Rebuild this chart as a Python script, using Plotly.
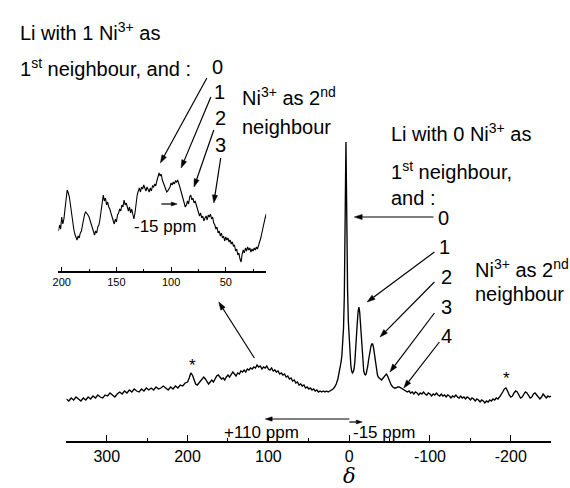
import math
import plotly.graph_objects as go

# ---------------- data ----------------
main_ppm = [350, 347, 344, 341, 338, 335, 332, 329, 326, 323, 320, 317, 314, 311, 308, 305, 302, 299, 296, 293,
            290, 287, 284, 281, 278, 275, 272, 269, 266, 263, 260, 257, 254, 251, 248, 245, 242, 239, 236, 233,
            230, 227, 224, 221, 218, 215, 212, 209, 206, 203, 200, 198, 196, 194, 192, 190, 188, 186, 184, 182,
            180, 178, 176, 174, 172, 170, 168, 166, 164, 162, 160, 158, 156, 154, 152, 150, 148, 146, 144, 142,
            140, 138, 136, 134, 132, 130, 128, 126, 124, 122, 120, 118, 116, 114, 112, 110, 108, 106, 104, 102,
            100, 98, 96, 94, 92, 90, 88, 86, 84, 82, 80, 78, 76, 74, 72, 70, 68, 66, 64, 62,
            60, 58, 56, 54, 52, 50, 48, 46, 44, 42, 40, 38, 36, 34, 32, 30, 28, 26, 24, 22,
            20, 18, 16, 14, 12, 10, 9, 8, 7, 6, 5, 4.5, 4, 3.5, 3, 2, 1, 0, -1, -2,
            -3, -4, -5, -6, -7, -8, -9, -10, -11, -12, -13, -14, -15, -16, -17, -18, -19, -20, -21, -22,
            -23, -24, -25, -26, -27, -28, -29, -30, -31, -32, -33, -34, -35, -36, -37, -38, -39, -40, -41, -42,
            -43, -44, -45, -46, -47, -48, -49, -50, -52, -54, -56, -58, -60, -62, -64, -66, -68, -70, -72, -74,
            -76, -78, -80, -82, -84, -86, -88, -90, -92, -94, -96, -98, -100, -102, -104, -106, -108, -110, -112, -114,
            -116, -118, -120, -122, -124, -126, -128, -130, -132, -134, -136, -138, -140, -142, -144, -146, -148, -150, -152, -154,
            -156, -158, -160, -162, -164, -166, -168, -170, -172, -174, -176, -178, -180, -182, -184, -186, -188, -190, -192, -194,
            -196, -198, -200, -202, -204, -206, -208, -210, -212, -214, -216, -218, -220, -222, -224, -226, -228, -230, -232, -234,
            -236, -238, -240, -242, -244, -246, -248, -250]
main_int = [1, -1, 2, 0, 3, 1, -1, 2, 0, 3, 1, 4, 2, 5, 3, 2, 5, 4, 7, 5,
            3, 6, 8, 6, 9, 7, 10, 8, 11, 9, 8, 11, 9, 12, 10, 12, 10, 13, 11, 12,
            14, 12, 10, 13, 11, 14, 12, 15, 14, 17, 18, 22, 27, 25, 20, 16, 15, 17, 19, 22,
            23, 21, 18, 16, 18, 20, 18, 21, 24, 25, 23, 21, 22, 20, 23, 25, 23, 26, 28, 26,
            24, 27, 26, 29, 28, 30, 28, 31, 30, 32, 31, 33, 32, 35, 33, 34, 31, 33, 32, 34,
            31, 30, 32, 29, 30, 28, 29, 26, 27, 25, 26, 23, 24, 21, 22, 19, 20, 17, 18, 15,
            16, 14, 15, 12, 13, 11, 12, 10, 11, 9, 10, 8, 9, 8, 9, 8, 9, 8, 9, 10,
            11, 13, 16, 21, 28, 38, 45, 56, 72, 105, 160, 215, 258, 222, 165, 110, 78, 58, 45, 35,
            29, 27, 28, 31, 38, 48, 62, 77, 88, 93, 88, 76, 60, 45, 35, 29, 26, 25, 26, 29,
            34, 40, 46, 51, 54, 56, 56, 53, 47, 40, 33, 28, 25, 23, 22, 21, 20, 20, 21, 22,
            24, 25, 26, 26, 25, 23, 21, 18, 15, 13, 12, 12, 13, 13, 12, 11, 10, 9, 8, 9,
            7, 8, 6, 8, 7, 5, 7, 6, 8, 6, 5, 7, 6, 4, 6, 5, 7, 5, 4, 6,
            4, 5, 3, 5, 4, 2, 4, 3, 5, 3, 2, 4, 2, 3, 1, 3, 2, 0, 2, 1,
            -1, 1, 0, -2, 0, -1, -3, -1, -2, 0, -1, 1, 0, 2, 1, 3, 5, 8, 11, 12,
            9, 5, 3, 4, 7, 9, 8, 5, 2, 3, 6, 8, 7, 4, 2, 3, 6, 7, 5, 3,
            1, 3, 6, 4, 2, 4, 3, 4]

inset_ppm = [203, 202, 201, 200, 199, 198, 197, 196, 195, 194, 193, 192, 191, 190, 189, 188, 187, 186, 185, 184,
             183, 182, 181, 180, 179, 178, 177, 176, 175, 174, 173, 172, 171, 170, 169, 168, 167, 166, 165, 164,
             163, 162, 161, 160, 159, 158, 157, 156, 155, 154, 153, 152, 151, 150, 149, 148, 147, 146, 145, 144,
             143, 142, 141, 140, 139, 138, 137, 136, 135, 134, 133, 132, 131, 130, 129, 128, 127, 126, 125, 124,
             123, 122, 121, 120, 119, 118, 117, 116, 115, 114, 113, 112, 111, 110, 109, 108, 107, 106, 105, 104,
             103, 102, 101, 100, 99, 98, 97, 96, 95, 94, 93, 92, 91, 90, 89, 88, 87, 86, 85, 84,
             83, 82, 81, 80, 79, 78, 77, 76, 75, 74, 73, 72, 71, 70, 69, 68, 67, 66, 65, 64,
             63, 62, 61, 60, 59, 58, 57, 56, 55, 54, 53, 52, 51, 50, 49, 48, 47, 46, 45, 44,
             43, 42, 41, 40, 39, 38, 37, 36, 35, 34, 33, 32, 31, 30, 29, 28, 27, 26, 25, 24,
             23, 22, 21, 20, 19, 18, 17, 16, 15, 14, 13]
inset_int = [40, 46, 42, 54, 47, 52, 62, 74, 81, 78, 74, 66, 57, 48, 42, 37, 34, 31, 35, 33,
             38, 40, 46, 53, 57, 59, 58, 56, 54, 50, 46, 42, 39, 36, 40, 38, 44, 46, 52, 62,
             70, 76, 70, 73, 66, 69, 64, 62, 58, 54, 50, 47, 52, 49, 56, 58, 62, 60, 66, 64,
             71, 66, 68, 63, 60, 64, 58, 62, 55, 52, 58, 70, 76, 80, 83, 79, 84, 82, 86, 83,
             80, 84, 81, 79, 83, 80, 85, 84, 87, 85, 90, 94, 98, 95, 97, 91, 88, 85, 82, 79,
             80, 82, 84, 88, 86, 89, 87, 90, 89, 91, 86, 84, 80, 76, 72, 69, 64, 66, 70, 67,
             74, 76, 71, 73, 68, 70, 66, 62, 58, 55, 58, 53, 55, 50, 53, 55, 51, 56, 54, 57,
             52, 54, 48, 46, 42, 44, 38, 40, 35, 38, 33, 35, 30, 34, 31, 33, 29, 31, 27, 29,
             25, 26, 20, 22, 16, 18, 12, 9, 17, 21, 18, 23, 20, 24, 21, 23, 19, 22, 20, 23,
             21, 24, 22, 25, 28, 33, 38, 44, 48, 53, 57]

main_tickvals = [300, 200, 100, 0, -100, -200]
main_ticktext = ["300", "200", "100", "0", "-100", "-200"]
main_minor = [350, 250, 150, 50, -50, -150, -250]
inset_tickvals = [200, 150, 100, 50]
inset_ticktext = ["200", "150", "100", "50"]
inset_minor = [175, 125, 75, 25]

W, H = 570, 488
FONT = "Arial, Liberation Sans, Helvetica, sans-serif"


def P(px, py):
    return px / W, 1 - py / H


fig = go.Figure()
fig.add_trace(go.Scatter(x=main_ppm, y=main_int, mode="lines",
                         line=dict(color="black", width=1.35), xaxis="x", yaxis="y",
                         showlegend=False, hoverinfo="skip"))
fig.add_trace(go.Scatter(x=inset_ppm, y=inset_int, mode="lines",
                         line=dict(color="black", width=1.1), xaxis="x2", yaxis="y2",
                         showlegend=False, hoverinfo="skip"))

ann = []
shapes = []


def text(s, px, py, size=20, xanchor="left", family=FONT):
    x, y = P(px, py)
    ann.append(dict(text=s, x=x, y=y, xref="paper", yref="paper", showarrow=False,
                    xanchor=xanchor, yanchor="middle", borderpad=0,
                    font=dict(family=family, size=size, color="black")))


def arrow(tx, ty, hx, hy, L=8.0, w=2.6):
    dx, dy = hx - tx, hy - ty
    d = math.hypot(dx, dy)
    ux, uy = dx / d, dy / d
    bx, by = hx - ux * L, hy - uy * L
    nx, ny = -uy, ux
    x0, y0 = P(tx, ty)
    x1, y1 = P(bx, by)
    shapes.append(dict(type="line", xref="paper", yref="paper", x0=x0, y0=y0, x1=x1, y1=y1,
                       line=dict(color="black", width=1.2)))
    a = P(hx, hy)
    b = P(bx + nx * w, by + ny * w)
    c = P(bx - nx * w, by - ny * w)
    path = "M %f,%f L %f,%f L %f,%f Z" % (a[0], a[1], b[0], b[1], c[0], c[1])
    shapes.append(dict(type="path", xref="paper", yref="paper", path=path,
                       fillcolor="black", line=dict(color="black", width=0.5)))


# top-left block
text("Li with 1 Ni<sup>3+</sup> as", 13, 32)
text("1<sup>st</sup> neighbour, and :", 13, 67)
for lab, (px, py) in zip(["0", "1", "2", "3"], [(214, 67), (216, 92), (217, 118), (217, 145)]):
    text(lab, px, py, xanchor="center")
text("Ni<sup>3+</sup> as 2<sup>nd</sup>", 237, 96)
text("neighbour", 237, 127)
arrow(203, 78, 156, 163)
arrow(207, 97, 177, 168)
arrow(210, 130, 190, 187)
arrow(217, 158, 210, 203)

# inset -15 ppm
arrow(157, 204, 173, 204, L=6, w=2)
text("-15 ppm", 161, 226, size=17, xanchor="center")

# hump -> inset
arrow(251, 358, 215, 302)

# right block
text("Li with 0 Ni<sup>3+</sup> as", 388, 133)
text("1<sup>st</sup> neighbour,", 388, 170)
text("and :", 388, 198)
for lab, (px, py) in zip(["0", "1", "2", "3", "4"], [(442, 218), (443, 247), (445, 277), (445, 307), (445, 336)]):
    text(lab, px, py, xanchor="center")
text("Ni<sup>3+</sup> as 2<sup>nd</sup>", 473, 268)
text("neighbour", 473, 294)
arrow(432, 217, 352, 217)
arrow(433, 252, 365, 302)
arrow(433, 282, 378, 337)
arrow(433, 313, 388, 372)
arrow(438, 342, 402, 388)

# stars
text("*", 188, 365, size=17, xanchor="center")
text("*", 506, 378, size=17, xanchor="center")

# shift arrows
arrow(347, 419, 262, 419, L=7, w=2.2)
arrow(347, 422, 360, 422, L=6, w=2)
text("+110 ppm", 258, 432, size=17, xanchor="center")
text("-15 ppm", 382, 432, size=17, xanchor="center")

# delta
text("<i>δ</i>", 347, 476, size=21, xanchor="center", family="DejaVu Serif, Liberation Serif, serif")

fig.update_layout(
    width=W, height=H, margin=dict(l=0, r=0, t=0, b=0),
    paper_bgcolor="white", plot_bgcolor="rgba(0,0,0,0)",
    showlegend=False, annotations=ann, shapes=shapes,
    xaxis=dict(domain=[61 / W, 551 / W], range=[350, -250], anchor="y",
               showline=True, linecolor="black", linewidth=1.5, showgrid=False, zeroline=False,
               ticks="inside", ticklen=6, tickwidth=1.3, tickcolor="black",
               tickvals=main_tickvals, ticktext=main_ticktext,
               tickfont=dict(family=FONT, size=16, color="black"),
               minor=dict(tickvals=main_minor, ticks="inside", ticklen=3,
                          tickwidth=1, tickcolor="black")),
    yaxis=dict(domain=[1 - 441 / H, 1], range=[-41, 400], visible=False),
    xaxis2=dict(domain=[53 / W, 263 / W], range=[203, 13], anchor="y2",
                showline=True, linecolor="black", linewidth=1.5, showgrid=False, zeroline=False,
                ticks="inside", ticklen=4, tickwidth=1, tickcolor="black",
                tickvals=inset_tickvals, ticktext=inset_ticktext,
                tickfont=dict(family=FONT, size=11, color="black"),
                minor=dict(tickvals=inset_minor, ticks="inside", ticklen=2,
                           tickwidth=1, tickcolor="black")),
    yaxis2=dict(domain=[1 - 271 / H, 1 - 171 / H], range=[0, 100], visible=False),
)

fig.write_html("out.html")
